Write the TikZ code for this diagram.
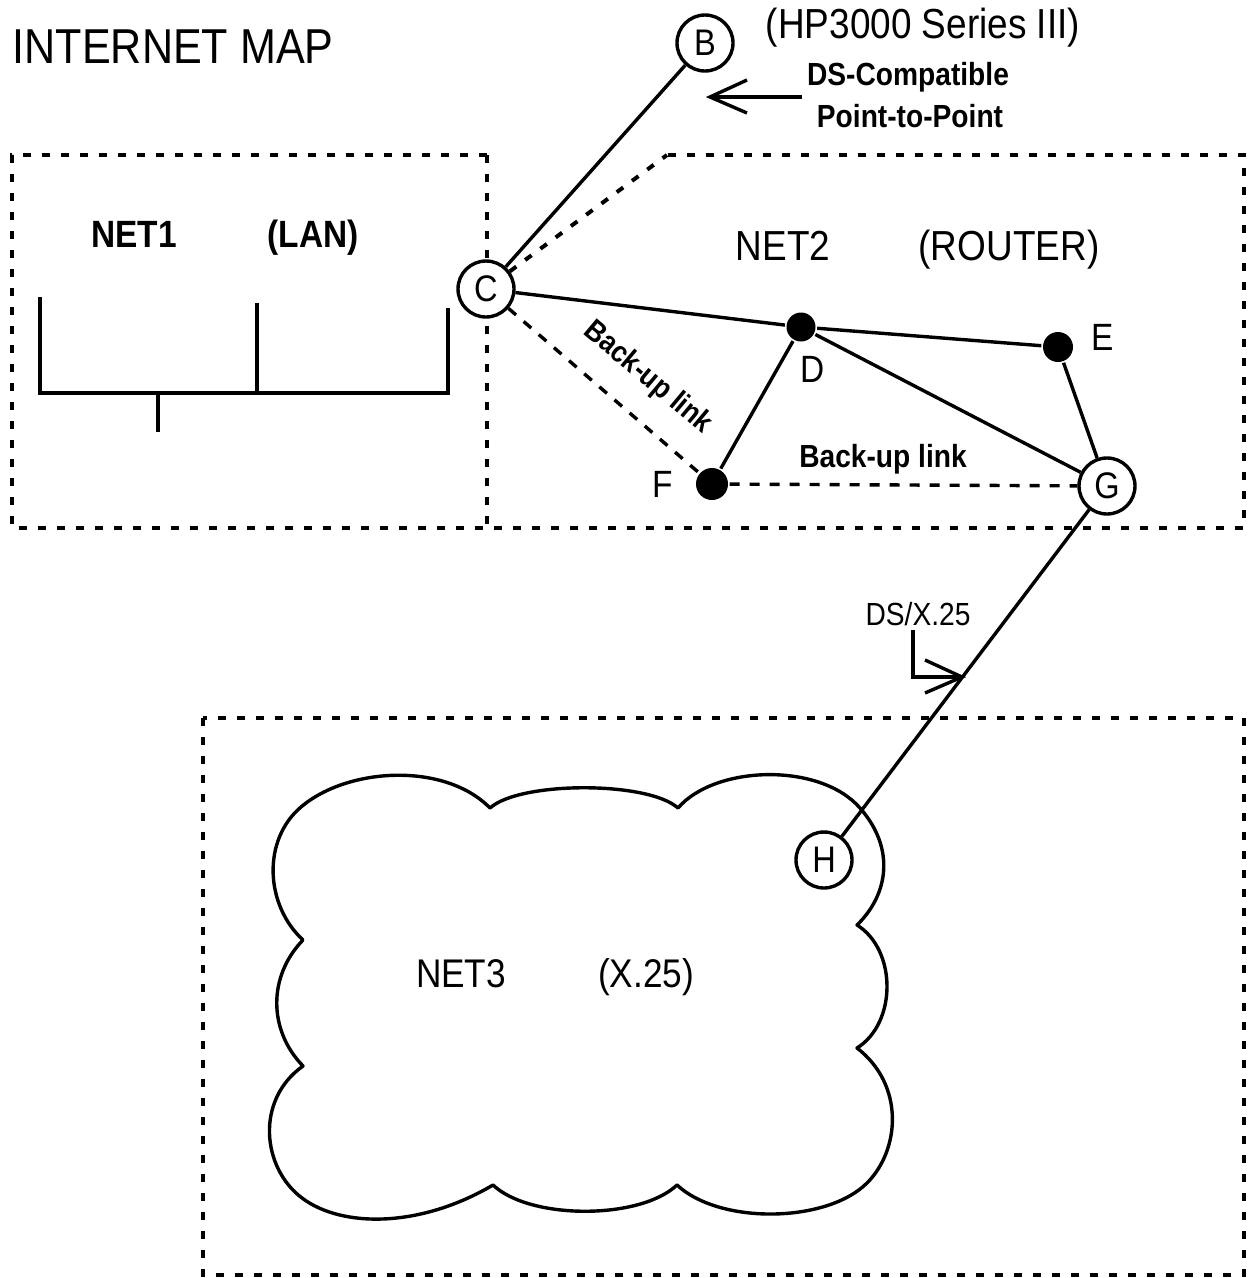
\documentclass[tikz,border=0pt]{standalone}
\usepackage{fontspec}
\setmainfont{Liberation Sans}
\newfontfamily\nar{Liberation Sans}[FakeStretch=0.88]
\begin{document}
\begin{tikzpicture}[x=1pt,y=-1pt,line width=3.4pt,
  boxline/.style={line width=4pt, dash pattern=on 8pt off 11pt},
  backup/.style={line width=3.4pt, dash pattern=on 10pt off 10pt},
  ring/.style={circle, draw, line width=3.4pt, fill=white, minimum size=56pt, inner sep=0pt, font=\nar\fontsize{37pt}{37pt}\selectfont},
  blob/.style={circle, fill=black, minimum size=29pt, inner sep=0pt},
  txt/.style={inner sep=0pt, anchor=base, font=\nar\fontsize{40pt}{40pt}\selectfont},
  bigtxt/.style={txt, font=\nar\fontsize{42pt}{42pt}\selectfont},
  boldtxt/.style={txt, font=\nar\bfseries\fontsize{38pt}{38pt}\selectfont},
  smallbold/.style={txt, font=\nar\bfseries\fontsize{32pt}{32pt}\selectfont},
  smalltxt/.style={txt, font=\nar\fontsize{32pt}{32pt}\selectfont},
  letter/.style={txt, font=\nar\fontsize{38pt}{38pt}\selectfont},
  bus/.style={line width=4pt}
]
\useasboundingbox (0,0) rectangle (1248,1278);
\fill[white] (0,0) rectangle (1248,1278);

% title
\node[txt, anchor=base west, font=\nar\fontsize{49pt}{49pt}\selectfont] (title) at (11,63) {INTERNET MAP};

% NET1 box and shared bottom edge
\coordinate (n1tl) at (12,155);
\coordinate (n1tr) at (487,155);
\coordinate (n1bl) at (12,528);
\coordinate (n1br) at (487,528);
\coordinate (n2tl) at (667,155);
\coordinate (n2tr) at (1244,155);
\coordinate (n2br) at (1244,528);
\draw[boxline] (n1tr) -- (n1tl) -- (n1bl) -- (n2br) -- (n2tr) -- (n2tl);
\draw[boxline] (n1tr) -- (n1br);

% NET3 box
\coordinate (n3tl) at (203,718);
\coordinate (n3br) at (1244,1275);
\draw[boxline] (n3tl) rectangle (n3br);

% LAN bus
\coordinate (l1) at (40,297);
\coordinate (l2) at (40,393);
\coordinate (l3) at (448,393);
\coordinate (l4) at (448,308);
\coordinate (m1) at (257,303);
\coordinate (m2) at (257,393);
\coordinate (d1) at (158,393);
\coordinate (d2) at (158,432);
\draw[bus] (l1) -- (l2) -- (l3) -- (l4);
\draw[bus] (m1) -- (m2);
\draw[bus] (d1) -- (d2);

% cloud
\draw[line width=3.4pt, line join=round]
  (303,940)
  .. controls (265,905) and (262,840) .. (301,807)
  .. controls (348,767) and (445,762) .. (490,808)
  .. controls (520,781) and (648,781) .. (678,808)
  .. controls (715,765) and (820,762) .. (860,808)
  .. controls (896,849) and (888,895) .. (857,925)
  .. controls (897,950) and (897,1023) .. (857,1048)
  .. controls (905,1085) and (900,1150) .. (867,1183)
  .. controls (827,1223) and (720,1225) .. (677,1185)
  .. controls (640,1220) and (530,1220) .. (493,1185)
  .. controls (420,1228) and (342,1228) .. (302,1198)
  .. controls (262,1168) and (255,1100) .. (303,1066)
  .. controls (268,1030) and (268,976) .. cycle;

% nodes
\node[ring] (B) at (705,43) {B};
\node[ring] (C) at (486,289) {C};
\node[blob] (D) at (801,327) {};
\node[blob, minimum size=30pt] (E) at (1058,347) {};
\node[blob, minimum size=32pt] (F) at (712,484) {};
\node[ring] (G) at (1107,486) {G};
\node[ring] (H) at (824,860) {H};

% NET2 boundary from C
\draw[boxline] (C) -- (n2tl);

% connectors
\draw (B) -- (C);
\draw (C) -- (D);
\draw (D) -- (E);
\draw (D) -- (F);
\draw (D) -- (G);
\draw (E) -- (G);
\draw[backup] (C) -- (F);
\draw[backup] (F) -- (G);
\draw (G) -- (H);

% labels
\node[bigtxt] (hp) at (923,38) {(HP3000 Series III)};
\node[smallbold] (dsc) at (908,85) {DS-Compatible};
\node[smallbold] (ptp) at (910,127) {Point-to-Point};
\node[boldtxt] (net1) at (134,247) {NET1};
\node[boldtxt] (lan) at (313,247) {(LAN)};
\node[bigtxt] (net2) at (783,260) {NET2};
\node[bigtxt] (router) at (1009,260) {(ROUTER)};
\node[txt] (net3) at (461,987) {NET3};
\node[txt] (x25) at (646,987) {(X.25)};
\node[letter] (Dl) at (813,382) {D};
\node[letter] (El) at (1103,350) {E};
\node[letter] (Fl) at (663,497) {F};
\node[smallbold] (bul) at (883,467) {Back-up link};
\node[inner sep=0pt, rotate=-40, font=\nar\bfseries\fontsize{30pt}{30pt}\selectfont] (bul2) at (648,378) {Back-up link};
\node[smalltxt] (dsx) at (918,625) {DS/X.25};

% arrow to B-C link
\coordinate (a1tail) at (802,97);
\coordinate (a1tip) at (710,97);
\coordinate (a1u) at (747,80);
\coordinate (a1d) at (747,113);
\draw (a1tail) -- (a1tip);
\draw[line join=miter] (a1u) -- (a1tip) -- (a1d);

% L arrow to G-H link
\coordinate (a2s) at (913,630);
\coordinate (a2c) at (913,677);
\coordinate (a2tip) at (962,677);
\coordinate (a2u) at (925,660);
\coordinate (a2d) at (925,693);
\draw (a2s) -- (a2c) -- (a2tip);
\draw[line join=miter] (a2u) -- (a2tip) -- (a2d);
\end{tikzpicture}
\end{document}
